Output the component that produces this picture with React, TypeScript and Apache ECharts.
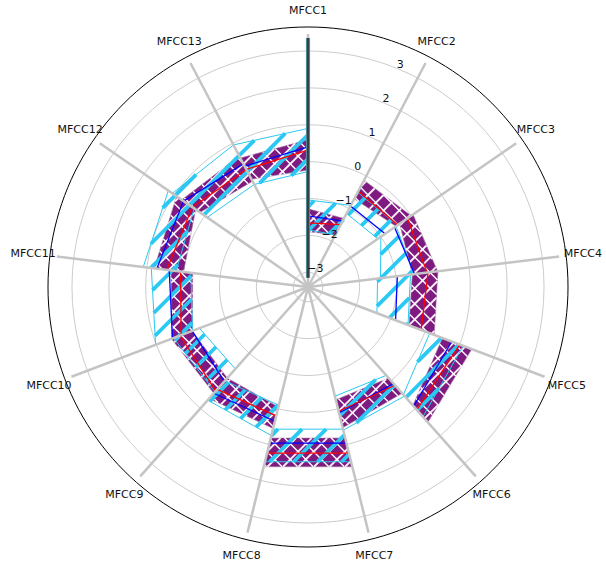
import React, { useEffect, useRef } from 'react';
import * as echarts from 'echarts';

const categories = ['MFCC1', 'MFCC2', 'MFCC3', 'MFCC4', 'MFCC5', 'MFCC6', 'MFCC7', 'MFCC8', 'MFCC9', 'MFCC10', 'MFCC11', 'MFCC12', 'MFCC13'];
const radialTicks = [-3, -2, -1, 0, 1, 2, 3];

// purple band (class A) — value at sector start / end
const purpleLoStart = [-1.9, -0.7, -0.38, -0.55, 0.5, -0.1, 0.82, -0.05, -0.1, -0.05, 0.0, 0.16, -0.1];
const purpleLoEnd = [-1.8, -0.5, -0.55, -0.47, 0.89, -0.25, 0.82, -0.1, -0.04, -0.25, 0.3, -0.16, -0.23];
const purpleHiStart = [-1.28, -0.13, 0.06, 0.15, 1.35, 0.45, 1.62, 0.55, 0.45, 0.55, 0.8, 0.76, 0.55];
const purpleHiEnd = [-1.3, 0.0, 0.14, 0.26, 1.5, 0.53, 1.62, 0.64, 0.56, 0.34, 0.93, 0.61, 0.59];
const redStart = [-1.66, -0.47, -0.12, -0.12, 1.0, 0.16, 1.24, 0.2, 0.37, 0.28, 0.46, 0.41, 0.2];
const redEnd = [-1.49, -0.44, -0.15, -0.12, 1.05, 0.07, 1.24, 0.31, 0.31, 0.08, 0.41, 0.2, 0.31];

// cyan band (class B)
const cyanLoStart = [-1.85, -1.15, -1.0, -1.5, 0.13, -0.2, 0.57, -0.1, -0.43, -0.05, 0.2, -0.08, -0.26];
const cyanLoEnd = [-1.8, -1.1, -1.42, -1.4, 0.5, -0.35, 0.57, 0.0, -0.25, -0.2, 0.35, -0.26, -0.27];
const cyanHiStart = [-1.04, -0.5, -0.5, -0.6, 1.1, 0.55, 1.48, 0.75, 0.4, 1.02, 1.1, 1.07, 0.95];
const cyanHiEnd = [-0.9, -0.45, -0.5, -0.5, 1.3, 0.6, 1.48, 0.7, 0.5, 0.88, 1.2, 0.95, 0.9];
const blueStart = [-1.47, -0.92, -0.55, -0.96, 0.77, 0.1, 0.96, 0.35, 0.02, 0.53, 0.73, 0.7, 0.3];
const blueEnd = [-1.38, -0.86, -0.49, -0.86, 0.92, 0.12, 0.96, 0.45, -0.04, 0.39, 0.7, 0.37, 0.4];

const R_MIN = -3.4;
const R_MAX = 3.65;
const SPOKE_END = 3.46;
const LABEL_R = 4.11;
const TICK_LABEL_ANGLE = 22.5;
const DARK_LINE = [-3.15, 3.35];
const STEP = 360 / categories.length;

const PURPLE = '#7f1a80';
const CYAN = '#2ac8f2';
const FONT = 'DejaVu Sans';

type Pt = number[];

function hatchSegments(poly: Pt[], spacing: number, dir: number, offset: number) {
  const f = (p: Pt) => p[0] + dir * p[1];
  const vals = poly.map(f);
  const lo = Math.min(...vals);
  const hi = Math.max(...vals);
  const step = spacing * Math.SQRT2;
  const segs: Pt[][] = [];
  for (let c = Math.ceil((lo - offset) / step) * step + offset; c <= hi; c += step) {
    const pts: Pt[] = [];
    for (let i = 0; i < poly.length; i++) {
      const p = poly[i];
      const q = poly[(i + 1) % poly.length];
      const fp = f(p) - c;
      const fq = f(q) - c;
      if ((fp <= 0 && fq > 0) || (fp > 0 && fq <= 0)) {
        const t = fp / (fp - fq);
        pts.push([p[0] + t * (q[0] - p[0]), p[1] + t * (q[1] - p[1])]);
      }
    }
    if (pts.length >= 2) segs.push([pts[0], pts[1]]);
  }
  return segs;
}

function segEl(s: Pt[], stroke: string, lw: number) {
  return {
    type: 'line',
    shape: { x1: s[0][0], y1: s[0][1], x2: s[1][0], y2: s[1][1] },
    style: { stroke, lineWidth: lw, lineCap: 'butt' },
  };
}

const sectorData = categories.map((_, i) => [0, i * STEP]);

export default function App() {
  const ref = useRef<HTMLDivElement>(null);
  useEffect(() => {
    if (!ref.current) return;
    const chart = echarts.init(ref.current, undefined, { renderer: 'svg' });

    const bandPoly = (api: any, i: number, ls: number[], le: number[], hs: number[], he: number[]) => {
      const a0 = i * STEP;
      const a1 = (i + 1) * STEP;
      return [api.coord([ls[i], a0]), api.coord([hs[i], a0]), api.coord([he[i], a1]), api.coord([le[i], a1])];
    };

    const option: any = {
      animation: false,
      polar: { center: [308, 287], radius: 260 },
      angleAxis: {
        type: 'value', min: 0, max: 360, startAngle: 90, clockwise: true,
        axisLine: { show: true, lineStyle: { color: '#000', width: 1 } },
        axisTick: { show: false }, axisLabel: { show: false }, splitLine: { show: false },
      },
      radiusAxis: {
        type: 'value', min: R_MIN, max: R_MAX,
        axisLine: { show: false }, axisTick: { show: false }, axisLabel: { show: false }, splitLine: { show: false },
      },
      series: [
        {
          type: 'custom', coordinateSystem: 'polar', silent: true, z: 1,
          data: radialTicks.map((t) => [t, 0]),
          renderItem: (params: any, api: any) => {
            const t = radialTicks[params.dataIndex];
            const c = api.coord([R_MIN, 0]);
            const p = api.coord([t, 0]);
            const r = Math.hypot(p[0] - c[0], p[1] - c[1]);
            return { type: 'circle', shape: { cx: c[0], cy: c[1], r }, style: { fill: 'none', stroke: '#cccccc', lineWidth: 1 } };
          },
        },
        {
          type: 'custom', coordinateSystem: 'polar', silent: true, z: 2,
          data: sectorData,
          renderItem: (params: any, api: any) => {
            const i = params.dataIndex;
            const poly = bandPoly(api, i, purpleLoStart, purpleLoEnd, purpleHiStart, purpleHiEnd);
            const children: any[] = [{ type: 'polygon', shape: { points: poly }, style: { fill: PURPLE, stroke: '#a37aa3', lineWidth: 0.6 } }];
            hatchSegments(poly, 11, 1, 3).forEach((s) => children.push(segEl(s, '#f7eef7', 1.9)));
            hatchSegments(poly, 11, -1, 2).forEach((s) => children.push(segEl(s, '#ffffff', 1.4)));
            return { type: 'group', children };
          },
        },
        {
          type: 'custom', coordinateSystem: 'polar', silent: true, z: 3,
          data: sectorData,
          renderItem: (params: any, api: any) => {
            const i = params.dataIndex;
            const poly = bandPoly(api, i, cyanLoStart, cyanLoEnd, cyanHiStart, cyanHiEnd);
            const children: any[] = [];
            hatchSegments(poly, 17, 1, 10).forEach((s) => children.push(segEl(s, CYAN, 3.8)));
            children.push({ type: 'polygon', shape: { points: poly }, style: { fill: 'none', stroke: CYAN, lineWidth: 1 } });
            return { type: 'group', children };
          },
        },
        {
          type: 'custom', coordinateSystem: 'polar', silent: true, z: 4,
          data: sectorData,
          renderItem: (params: any, api: any) => {
            const i = params.dataIndex;
            const a0 = i * STEP;
            const a1 = (i + 1) * STEP;
            const r0 = api.coord([redStart[i], a0]);
            const r1 = api.coord([redEnd[i], a1]);
            const b0 = api.coord([blueStart[i], a0]);
            const b1 = api.coord([blueEnd[i], a1]);
            return {
              type: 'group',
              children: [segEl([b0, b1], '#0000ff', 1.3), segEl([r0, r1], '#ff0000', 1.3)],
            };
          },
        },
        {
          type: 'custom', coordinateSystem: 'polar', silent: true, z: 5,
          data: sectorData,
          renderItem: (params: any, api: any) => {
            const a = params.dataIndex * STEP;
            const c = api.coord([R_MIN, a]);
            const e = api.coord([SPOKE_END, a]);
            return segEl([c, e], '#c4c4c4', 2.5);
          },
        },
        {
          type: 'custom', coordinateSystem: 'polar', silent: true, z: 6,
          data: [[0, 0]],
          renderItem: (params: any, api: any) => {
            const p0 = api.coord([DARK_LINE[0], 0]);
            const p1 = api.coord([DARK_LINE[1], 0]);
            return {
              type: 'group',
              children: [segEl([p0, p1], '#5fb8c8', 4.2), segEl([p0, p1], '#3b3f42', 2.8)],
            };
          },
        },
        {
          type: 'custom', coordinateSystem: 'polar', silent: true, z: 7,
          data: radialTicks.map((t) => [t, TICK_LABEL_ANGLE]),
          renderItem: (params: any, api: any) => {
            const t = radialTicks[params.dataIndex];
            const p = api.coord([t + 0.13, TICK_LABEL_ANGLE]);
            return {
              type: 'text',
              style: {
                text: t < 0 ? '\u2212' + Math.abs(t) : String(t),
                x: p[0], y: p[1], align: 'center', verticalAlign: 'middle',
                fill: '#111', fontSize: 11, fontFamily: FONT,
              },
            };
          },
        },
        {
          type: 'custom', coordinateSystem: 'polar', silent: true, z: 7,
          data: sectorData,
          renderItem: (params: any, api: any) => {
            const i = params.dataIndex;
            const p = api.coord([LABEL_R, i * STEP]);
            return {
              type: 'text',
              style: {
                text: categories[i], x: p[0], y: p[1], align: 'center', verticalAlign: 'middle',
                fill: '#111', fontSize: 11, fontFamily: FONT,
              },
            };
          },
        },
      ],
    };
    chart.setOption(option);
    return () => chart.dispose();
  }, []);
  return <div ref={ref} style={{ position: 'fixed', left: 0, top: 0, width: 606, height: 572, background: '#fff' }} />;
}
